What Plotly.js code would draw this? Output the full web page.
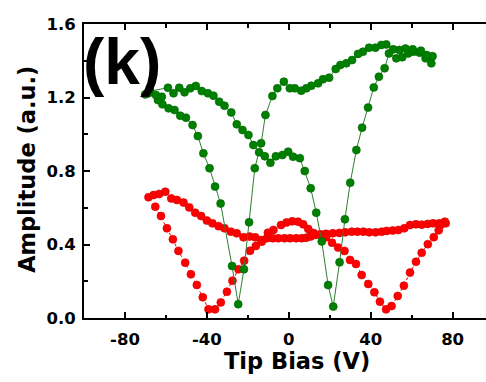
<!DOCTYPE html>
<html>
<head>
<meta charset="utf-8">
<script src="https://cdn.plot.ly/plotly-3.0.1.min.js"></script>
<style>
  html, body { margin: 0; padding: 0; background: #fff; }
  #chart { width: 486px; height: 382px; }
</style>
</head>
<body>
<div id="chart"></div>
<script>
// Green loop (Tip Bias V, Amplitude a.u.)
const greenV = [
  -70.1, -67.7, -59.0, -56.3, -53.5, -50.9, -48.1, -45.4, -42.5, -39.5, -36.8, -34.0, -31.4, -28.1,
  -25.4, -22.6, -19.7, -17.3, -14.5, -11.7, -9.0, -6.3, -3.1, -0.3, 2.1, 5.4, 7.8, 10.7,
  13.4, 16.1, 19.2, 21.7,
  24.8, 27.4, 30.0, 33.0, 35.8, 38.7, 41.5, 44.0, 46.8, 48.9, 52.5, 55.4, 58.3, 61.0, 63.9, 66.8, 69.6, 70.2,
  67.3, 64.5, 60.5, 57.0, 54.0, 51.0, 47.6, 45.2, 42.3, 39.2, 36.2, 33.8, 30.9, 28.1, 25.2, 22.9,
  19.7, 16.7, 14.3, 11.0, 8.6, 6.1, 2.9, 0.5, -2.4, -5.6, -8.0, -11.4, -13.5, -16.6, -19.4, -21.9,
  -24.7, -27.7, -33.3, -36.0, -38.7, -41.7, -44.4, -47.0, -50.2, -53.0, -55.8, -58.7, -61.7, -63.9,
  -62.0, -64.9, -68.5
];
const greenA = [
  1.217, 1.235, 1.253, 1.223, 1.253, 1.228, 1.250, 1.263, 1.235, 1.223, 1.210, 1.177, 1.155, 1.119,
  1.054, 1.023, 0.996, 0.941, 0.902, 0.880, 0.845, 0.880, 0.887, 0.905, 0.878, 0.870, 0.800, 0.706,
  0.573, 0.417, 0.179, 0.062,
  0.303, 0.537, 0.736, 0.914, 1.036, 1.145, 1.255, 1.313, 1.359, 1.440, 1.413, 1.419, 1.440, 1.449, 1.444, 1.413, 1.386, 1.425,
  1.431, 1.455, 1.462, 1.466, 1.459, 1.462, 1.489, 1.486, 1.471, 1.471, 1.449, 1.437, 1.404, 1.386, 1.377, 1.355,
  1.308, 1.300, 1.277, 1.264, 1.250, 1.237, 1.250, 1.250, 1.286, 1.250, 1.208, 1.105, 0.951, 0.815, 0.521, 0.265,
  0.075, 0.283, 0.623, 0.715, 0.815, 0.896, 0.990, 1.050, 1.090, 1.101, 1.132, 1.141, 1.163, 1.186,
  1.204, 1.214, 1.223
];

// Red loop (Tip Bias V, Amplitude a.u.)
const redV = [
  -68.5, -66.0, -63.3, -60.3, -57.4, -54.6, -51.4, -48.6, -45.7, -42.8, -40.0, -37.3, -34.3, -31.4,
  -28.3, -25.4, -22.1, -19.2, -16.4, -13.5, -10.7, -7.8, -5.1, -2.1, 0.6, 3.6, 6.3, 8.5, 10.6,
  13.0, 15.6, 18.2, 21.5, 24.7, 27.5, 30.7, 33.5, 36.4, 39.3, 42.4, 45.4, 47.8, 50.7, 53.5, 56.4,
  59.2, 62.1, 64.9, 67.8, 70.5, 73.5, 76.6,
  76.2, 74.1, 73.2, 70.8, 67.9, 64.9, 62.1, 59.2, 56.2, 53.2, 50.2, 47.5, 44.5, 41.8, 38.8, 35.6,
  32.8, 29.9, 27.2, 24.1, 21.1, 18.2, 15.1, 12.0, 9.5, 7.0, 4.5, 1.7, -1.1, -3.8, -7.5, -10.2,
  -13.2, -16.1, -18.9, -21.8, -24.6, -27.5, -30.2, -33.2, -36.0, -39.2, -42.0, -44.9, -47.8, -50.6,
  -53.9, -56.6, -59.5, -62.4, -65.2
];
const redA = [
  0.657, 0.669, 0.675, 0.687, 0.651, 0.642, 0.628, 0.602, 0.573, 0.555, 0.530, 0.515, 0.500, 0.488,
  0.470, 0.461, 0.439, 0.443, 0.439, 0.424, 0.434, 0.434, 0.434, 0.434, 0.434, 0.434, 0.434, 0.437, 0.443,
  0.452, 0.455, 0.458, 0.461, 0.463, 0.466, 0.470, 0.470, 0.470, 0.466, 0.466, 0.470, 0.474, 0.476, 0.479, 0.488,
  0.506, 0.510, 0.508, 0.512, 0.515, 0.515, 0.515,
  0.524, 0.506, 0.477, 0.440, 0.402, 0.355, 0.306, 0.247, 0.176, 0.120, 0.065, 0.047, 0.089, 0.140, 0.185, 0.234,
  0.294, 0.316, 0.365, 0.383, 0.410, 0.440, 0.455, 0.463, 0.485, 0.510, 0.524, 0.526, 0.520, 0.506, 0.479, 0.464,
  0.415, 0.392, 0.366, 0.312, 0.265, 0.203, 0.143, 0.085, 0.047, 0.047, 0.113, 0.180, 0.238, 0.301,
  0.365, 0.428, 0.488, 0.555, 0.606
];

const xTickVals = [-80, -40, 0, 40, 80];
const xTickText = ['-80', '-40', '0', '40', '80'];
const yTickVals = [0.0, 0.4, 0.8, 1.2, 1.6];
const yTickText = ['0.0', '0.4', '0.8', '1.2', '1.6'];

const tickFont = { family: 'DejaVu Sans, sans-serif', size: 16.5, color: '#000', weight: 'bold' };
const titleFont = { family: 'DejaVu Sans, sans-serif', size: 22.5, color: '#000', weight: 'bold' };

const traces = [
  {
    x: redV, y: redA, type: 'scatter', mode: 'lines+markers',
    line: { color: '#e00000', width: 1, dash: 'dot' },
    marker: { color: '#ff0000', size: 8, line: { width: 0.6, color: '#d40000' } },
    hoverinfo: 'x+y', showlegend: false
  },
  {
    x: greenV, y: greenA, type: 'scatter', mode: 'lines+markers',
    line: { color: '#2f7f2f', width: 1 },
    marker: { color: '#008000', size: 8, line: { width: 0.6, color: '#006400' } },
    hoverinfo: 'x+y', showlegend: false
  }
];

const layout = {
  width: 486, height: 382,
  margin: { l: 84, r: 0, t: 24, b: 64, pad: 0 },
  paper_bgcolor: '#fff', plot_bgcolor: '#fff',
  xaxis: {
    range: [-100, 96.3], tickvals: xTickVals, ticktext: xTickText,
    ticks: 'inside', ticklen: 6, tickwidth: 2, tickcolor: '#000',
    minor: { dtick: 20, tick0: 0, ticks: 'inside', ticklen: 3.5, tickwidth: 2, tickcolor: '#000' },
    showline: true, linewidth: 2, linecolor: '#000', mirror: 'ticks',
    showgrid: false, zeroline: false, tickfont: tickFont, ticklabelstandoff: 5
  },
  yaxis: {
    range: [0, 1.6], tickvals: yTickVals, ticktext: yTickText,
    ticks: 'inside', ticklen: 6, tickwidth: 2, tickcolor: '#000',
    minor: { dtick: 0.2, tick0: 0, ticks: 'inside', ticklen: 3.5, tickwidth: 2, tickcolor: '#000' },
    showline: true, linewidth: 2, linecolor: '#000', mirror: false,
    showgrid: false, zeroline: false, tickfont: tickFont, ticklabelstandoff: 3
  },
  annotations: [
    { text: '(k)', xref: 'paper', yref: 'paper', x: -0.008, y: 1.0, xanchor: 'left', yanchor: 'top',
      showarrow: false, font: { family: 'Liberation Sans, Arial, sans-serif', size: 64, color: '#000', weight: 'bold' } },
    { text: 'Tip Bias (V)', xref: 'paper', yref: 'paper', x: 0.529, y: -0.145, xanchor: 'center', yanchor: 'middle',
      showarrow: false, font: titleFont },
    { text: 'Amplitude (a.u.)', xref: 'paper', yref: 'paper', x: -0.142, y: 0.507, xanchor: 'center', yanchor: 'middle',
      textangle: -90, showarrow: false, font: titleFont }
  ]
};

Plotly.newPlot('chart', traces, layout, { displayModeBar: false, staticPlot: true });
</script>
</body>
</html>
